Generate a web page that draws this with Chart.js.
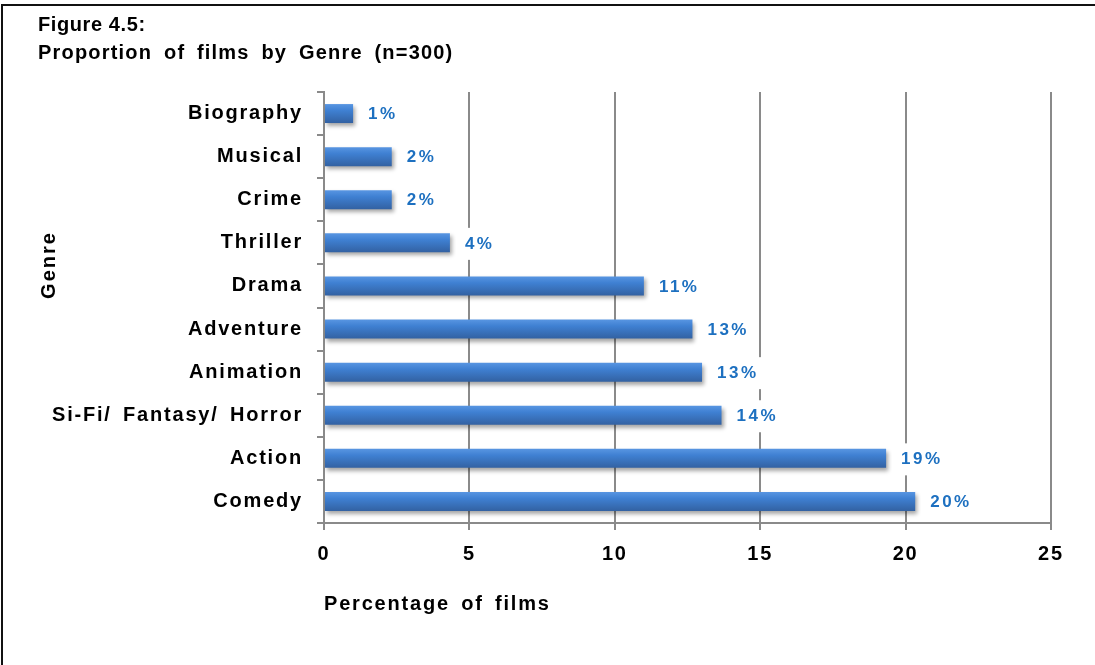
<!DOCTYPE html>
<html>
<head>
<meta charset="utf-8">
<script src="https://cdn.jsdelivr.net/npm/chart.js@4.4.1/dist/chart.umd.min.js"></script>
<style>
  html, body { margin: 0; padding: 0; background: #ffffff; }
  canvas { display: block; }
</style>
</head>
<body>
<canvas id="c" width="1095" height="665"></canvas>
<script>
const titleLines = ['Figure 4.5:', 'Proportion of films by Genre (n=300)'];
const yAxisTitle = 'Genre';
const xAxisTitle = 'Percentage of films';
const categories = ['Biography', 'Musical', 'Crime', 'Thriller', 'Drama', 'Adventure', 'Animation', 'Si-Fi/ Fantasy/ Horror', 'Action', 'Comedy'];
const percentages = [1.0, 2.33, 2.33, 4.33, 11.0, 12.67, 13.0, 13.67, 19.33, 20.33];
const valueLabels = ['1%', '2%', '2%', '4%', '11%', '13%', '13%', '14%', '19%', '20%'];
const xTicks = [0, 5, 10, 15, 20, 25];

const FONT = '"Liberation Sans", Arial, sans-serif';
const GRID = '#8a8a8a';

function setSpacing(chart) {
  chart.ctx.letterSpacing = '1.8px';
  chart.ctx.wordSpacing = '4px';
}

const decor = {
  id: 'decor',
  beforeUpdate: setSpacing,
  beforeLayout: setSpacing,
  beforeDraw(chart) {
    const ctx = chart.ctx;
    ctx.save();
    ctx.fillStyle = '#ffffff';
    ctx.fillRect(0, 0, chart.width, chart.height);
    ctx.fillStyle = '#111111';
    ctx.fillRect(1, 4, chart.width - 1, 2);
    ctx.fillRect(1, 4, 2, chart.height - 4);
    ctx.fillStyle = '#000000';
    ctx.font = 'bold 20px ' + FONT;
    ctx.textAlign = 'left';
    ctx.textBaseline = 'alphabetic';
    ctx.letterSpacing = '0.6px';
    ctx.wordSpacing = '0px';
    ctx.fillText(titleLines[0], 38, 31);
    ctx.letterSpacing = '1.2px';
    ctx.wordSpacing = '5px';
    ctx.fillText(titleLines[1], 38, 59);
    ctx.translate(55, 266);
    ctx.rotate(-Math.PI / 2);
    ctx.textAlign = 'center';
    ctx.font = 'bold 20px ' + FONT;
    ctx.letterSpacing = '2px';
    ctx.fillText(yAxisTitle, 1, 0);
    ctx.restore();
    setSpacing(chart);
  },
  beforeDatasetsDraw(chart) {
    const ctx = chart.ctx;
    ctx.save();
    ctx.shadowColor = 'rgba(0,0,0,0.35)';
    ctx.shadowBlur = 4;
    ctx.shadowOffsetX = 2;
    ctx.shadowOffsetY = 3;
  },
  afterDatasetsDraw(chart) {
    const ctx = chart.ctx;
    ctx.restore();
    const meta = chart.getDatasetMeta(0);
    ctx.save();
    ctx.font = 'bold 17px ' + FONT;
    ctx.letterSpacing = '2.5px';
    ctx.textAlign = 'left';
    ctx.textBaseline = 'middle';
    meta.data.forEach((bar, i) => {
      const txt = valueLabels[i];
      const x = bar.x + 15;
      const y = bar.y + 1;
      const w = ctx.measureText(txt).width;
      ctx.fillStyle = '#ffffff';
      ctx.fillRect(x - 9, y - 16, w + 16, 32);
      ctx.fillStyle = '#1d70c0';
      ctx.fillText(txt, x, y);
    });
    ctx.restore();
    setSpacing(chart);
  }
};

function barFill(context) {
  const chart = context.chart;
  const ys = chart.scales && chart.scales.y;
  if (!ys || typeof context.dataIndex !== 'number') return '#3f7fcf';
  const cy = ys.getPixelForValue(context.dataIndex);
  if (!isFinite(cy)) return '#3f7fcf';
  const g = chart.ctx.createLinearGradient(0, cy - 10, 0, cy + 10);
  g.addColorStop(0, '#5a97e3');
  g.addColorStop(0.35, '#3f80d2');
  g.addColorStop(1, '#3260a0');
  return g;
}

new Chart(document.getElementById('c'), {
  type: 'bar',
  data: {
    labels: categories,
    datasets: [{
      data: percentages,
      backgroundColor: barFill,
      borderWidth: 0,
      barPercentage: 0.44,
      categoryPercentage: 1.0
    }]
  },
  plugins: [decor],
  options: {
    indexAxis: 'y',
    responsive: false,
    animation: false,
    devicePixelRatio: 1,
    layout: { padding: { left: 0, top: 92, right: 44, bottom: 0 } },
    plugins: {
      legend: { display: false },
      title: { display: false },
      tooltip: { enabled: false }
    },
    scales: {
      x: {
        type: 'linear',
        min: 0,
        max: 25,
        afterBuildTicks(scale) { scale.ticks = xTicks.map(v => ({ value: v })); },
        afterFit(scale) { scale.height = 142; },
        grid: { color: GRID, lineWidth: 2, tickLength: 7, drawTicks: true },
        border: { display: true, color: GRID, width: 2 },
        ticks: { color: '#000000', font: { family: FONT, size: 20, weight: 'bold' }, padding: 12, maxRotation: 0 },
        title: {
          display: true,
          text: xAxisTitle,
          align: 'start',
          color: '#000000',
          font: { family: FONT, size: 20, weight: 'bold' },
          padding: { top: 0, bottom: 49 }
        }
      },
      y: {
        type: 'category',
        afterFit(scale) { scale.width = 324; },
        grid: { display: true, drawOnChartArea: false, color: GRID, lineWidth: 2, tickLength: 7, offset: true },
        border: { display: true, color: GRID, width: 2 },
        ticks: { color: '#000000', font: { family: FONT, size: 20, weight: 'bold' }, padding: 14, autoSkip: false }
      }
    }
  }
});
</script>
</body>
</html>
